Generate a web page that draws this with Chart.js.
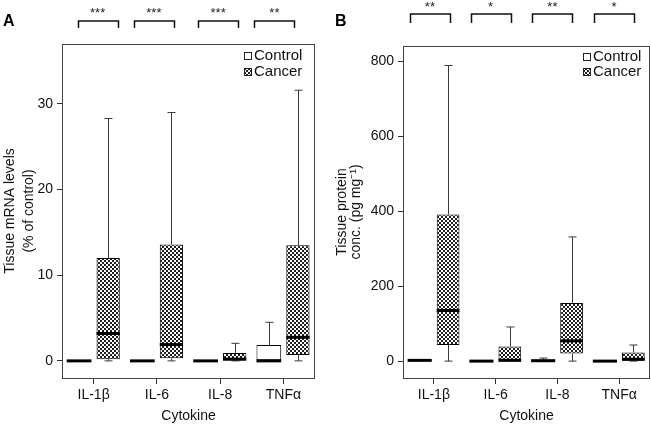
<!DOCTYPE html>
<html><head><meta charset="utf-8">
<script src="https://cdn.jsdelivr.net/npm/chart.js@4.4.0/dist/chart.umd.min.js"></script>
<style>
html,body{margin:0;padding:0;background:#fff;overflow:hidden}
#wrap{position:relative;width:651px;height:425px;background:#fff}
canvas{position:absolute;top:0}
#cA{left:0}
#cB{left:325px}
</style></head><body>
<div id="wrap"><canvas id="cA" width="325" height="425"></canvas><canvas id="cB" width="326" height="425"></canvas></div>
<script>
// ---------- data ----------
const categories = ['IL-1β', 'IL-6', 'IL-8', 'TNFα'];
const seriesNames = ['Control', 'Cancer'];

// Panel A: tissue mRNA levels (% of control)
const mrnaTicks = [0, 10, 20, 30];
const mrnaControlMin    = [0, 0, 0, 0];
const mrnaControlQ1     = [0, 0, 0, 0];
const mrnaControlMedian = [0, 0, 0, 0];
const mrnaControlQ3     = [0, 0, 0, 1.85];
const mrnaControlMax    = [0, 0, 0, 4.5];
const mrnaCancerMin     = [0, 0, 0, 0];
const mrnaCancerQ1      = [0.2, 0.3, 0.05, 0.7];
const mrnaCancerMedian  = [3.2, 1.9, 0.2, 2.75];
const mrnaCancerQ3      = [12.0, 13.6, 0.93, 13.5];
const mrnaCancerMax     = [28.3, 29.0, 2.05, 31.6];
const mrnaSignificance  = ['***', '***', '***', '**'];

// Panel B: tissue protein conc. (pg mg-1)
const protTicks = [0, 200, 400, 600, 800];
const protControlMin    = [0, 0, 0, 0];
const protControlQ1     = [0, 0, 0, 0];
const protControlMedian = [2, 0, 1, 0];
const protControlQ3     = [3, 0, 4, 0];
const protControlMax    = [3, 0, 8, 0];
const protCancerMin     = [0, 0, 0, 0];
const protCancerQ1      = [43, 0, 20, 1];
const protCancerMedian  = [135, 2, 54, 5];
const protCancerQ3      = [391, 39, 155, 23];
const protCancerMax     = [788, 91, 331, 43];
const protSignificance  = ['**', '*', '**', '*'];

// ---------- helpers ----------
function makePattern() {
  const c = document.createElement('canvas');
  c.width = 4; c.height = 4;
  const g = c.getContext('2d');
  g.fillStyle = '#fff'; g.fillRect(0, 0, 4, 4);
  g.fillStyle = '#1e1e1e'; g.fillRect(0, 0, 2, 2); g.fillRect(2, 2, 2, 2);
  return g.createPattern(c, 'repeat');
}
const hatch = makePattern();
const FONT = '"Liberation Sans", Arial, Helvetica, sans-serif';

const boxPlugin = {
  id: 'boxExtras',
  afterDatasetsDraw(chart, args, o) {
    const ctx = chart.ctx, ys = chart.scales.y;
    chart.data.datasets.forEach((ds, di) => {
      const meta = chart.getDatasetMeta(di);
      const st = ds.stats;
      meta.data.forEach((bar, i) => {
        const x = Math.round(bar.x) + 0.5, w = bar.width;
        const q1 = ys.getPixelForValue(st.q1[i]);
        const q3 = ys.getPixelForValue(st.q3[i]);
        const med = ys.getPixelForValue(st.median[i]);
        const lo = ys.getPixelForValue(st.min[i]);
        const hi = ys.getPixelForValue(st.max[i]);
        const cap = 4;
        ctx.save();
        ctx.strokeStyle = '#3a3a3a';
        ctx.lineWidth = 1;
        if (st.max[i] > st.q3[i]) {
          ctx.beginPath(); ctx.moveTo(x, q3); ctx.lineTo(x, hi);
          ctx.moveTo(x - cap, hi); ctx.lineTo(x + cap, hi); ctx.stroke();
        }
        if (st.min[i] < st.q1[i]) {
          ctx.beginPath(); ctx.moveTo(x, q1); ctx.lineTo(x, lo);
          ctx.moveTo(x - cap, lo); ctx.lineTo(x + cap, lo); ctx.stroke();
        }
        ctx.strokeStyle = '#000';
        ctx.lineWidth = 3;
        ctx.beginPath(); ctx.moveTo(bar.x - w / 2, med); ctx.lineTo(bar.x + w / 2, med); ctx.stroke();
        ctx.restore();
      });
    });
  },
  afterDraw(chart, args, o) {
    const ctx = chart.ctx, a = chart.chartArea, xs = chart.scales.x;
    ctx.save();
    // frame
    ctx.strokeStyle = '#444'; ctx.lineWidth = 1;
    ctx.strokeRect(Math.round(a.left) + 0.5, Math.round(a.top) + 0.5,
                   Math.round(a.right - a.left) - 1, Math.round(a.bottom - a.top));
    // significance brackets
    ctx.strokeStyle = '#111'; ctx.lineWidth = 1.5;
    ctx.fillStyle = '#222';
    ctx.font = '13px ' + FONT;
    ctx.textAlign = 'center'; ctx.textBaseline = 'middle';
    o.sig.forEach((s, i) => {
      const cx = xs.getPixelForValue(i) + o.bracketShift[i];
      const l = Math.round(cx - o.bracketHalf) + 0.5, r = Math.round(cx + o.bracketHalf) + 0.5;
      ctx.beginPath();
      ctx.moveTo(l, o.bracketLeg); ctx.lineTo(l, o.bracketTop);
      ctx.lineTo(r, o.bracketTop); ctx.lineTo(r, o.bracketLeg);
      ctx.stroke();
      ctx.fillText(s, cx, o.starY);
    });
    // legend
    ctx.font = '15px ' + FONT;
    ctx.textAlign = 'left'; ctx.textBaseline = 'middle';
    chart.data.datasets.forEach((ds, di) => {
      const lx = Math.round(a.right - o.legendOffset), ly = Math.round(a.top + o.legendY[di]);
      ctx.fillStyle = ds.backgroundColor;
      ctx.fillRect(lx, ly - 4, 7, 7);
      ctx.strokeStyle = '#222'; ctx.lineWidth = 1;
      ctx.strokeRect(lx + 0.5, ly - 3.5, 7, 7);
      ctx.fillStyle = '#111';
      ctx.fillText(ds.label, lx + 10, ly);
    });
    // panel letter
    ctx.font = 'bold 16px ' + FONT;
    ctx.fillStyle = '#000';
    ctx.textBaseline = 'alphabetic';
    ctx.fillText(o.letter, o.letterX, 26);
    ctx.restore();
  }
};

function stats(min, q1, median, q3, max) { return { min, q1, median, q3, max }; }

function makeChart(id, cfg) {
  const tickFont = { family: FONT, size: 14 };
  return new Chart(document.getElementById(id), {
    type: 'bar',
    data: {
      labels: categories,
      datasets: [
        { label: seriesNames[0], data: cfg.control.q1.map((v, i) => [v, cfg.control.q3[i]]),
          stats: cfg.control, backgroundColor: '#ffffff', borderColor: '#000', borderWidth: 1,
          borderSkipped: false, categoryPercentage: 0.92, barPercentage: 0.85 },
        { label: seriesNames[1], data: cfg.cancer.q1.map((v, i) => [v, cfg.cancer.q3[i]]),
          stats: cfg.cancer, backgroundColor: hatch, borderColor: '#000', borderWidth: 1,
          borderSkipped: false, categoryPercentage: 0.92, barPercentage: 0.80 }
      ]
    },
    options: {
      responsive: false, animation: false, devicePixelRatio: 1,
      layout: { padding: { top: cfg.top, right: cfg.right, left: 0, bottom: 0 } },
      plugins: {
        legend: { display: false }, tooltip: { enabled: false },
        boxExtras: cfg.extras
      },
      scales: {
        x: {
          grid: { display: true, drawOnChartArea: false, drawTicks: true, tickLength: 6, color: '#333', offset: false },
          border: { display: false },
          ticks: { font: tickFont, color: '#111', padding: 3, maxRotation: 0 },
          title: { display: true, text: 'Cytokine', font: { family: FONT, size: 14 }, color: '#111', padding: { top: 0, bottom: 0 } },
          afterFit(s) { s.height = 47; }
        },
        y: {
          min: cfg.min, max: cfg.max,
          afterBuildTicks(s) { s.ticks = cfg.ticks.map(v => ({ value: v })); },
          grid: { display: true, drawOnChartArea: false, drawTicks: true, tickLength: 5, color: '#333' },
          border: { display: false },
          ticks: { font: tickFont, color: '#111', padding: 4 },
          title: { display: true, text: cfg.yTitle, font: { family: FONT, size: 14, lineHeight: cfg.titleLH }, color: '#111', padding: { top: cfg.titlePad, bottom: 0 } },
          afterFit(s) { s.width = cfg.yWidth; }
        }
      }
    },
    plugins: [boxPlugin]
  });
}

makeChart('cA', {
  control: stats(mrnaControlMin, mrnaControlQ1, mrnaControlMedian, mrnaControlQ3, mrnaControlMax),
  cancer: stats(mrnaCancerMin, mrnaCancerQ1, mrnaCancerMedian, mrnaCancerQ3, mrnaCancerMax),
  ticks: mrnaTicks, min: -2, max: 37,
  yTitle: ['Tissue mRNA levels', '(% of control)'], titleLH: 1.4, titlePad: 0,
  yWidth: 62, top: 44, right: 10,
  extras: { sig: mrnaSignificance, bracketShift: [4, -3, -2, -9], bracketHalf: 20, bracketTop: 21, bracketLeg: 28, starY: 13,
            legendOffset: 71, legendY: [12, 28], letter: 'A', letterX: 3 }
});

makeChart('cB', {
  control: stats(protControlMin, protControlQ1, protControlMedian, protControlQ3, protControlMax),
  cancer: stats(protCancerMin, protCancerQ1, protCancerMedian, protCancerQ3, protCancerMax),
  ticks: protTicks, min: -45, max: 840,
  yTitle: ['Tissue protein', 'conc. (pg mg⁻¹)'], titleLH: 1.0, titlePad: 10,
  yWidth: 78, top: 46, right: 1,
  extras: { sig: protSignificance, bracketShift: [-4, -5, -5, -5], bracketHalf: 20, bracketTop: 14, bracketLeg: 23, starY: 7,
            legendOffset: 67, legendY: [11, 26], letter: 'B', letterX: 10 }
});
</script>
</body></html>
